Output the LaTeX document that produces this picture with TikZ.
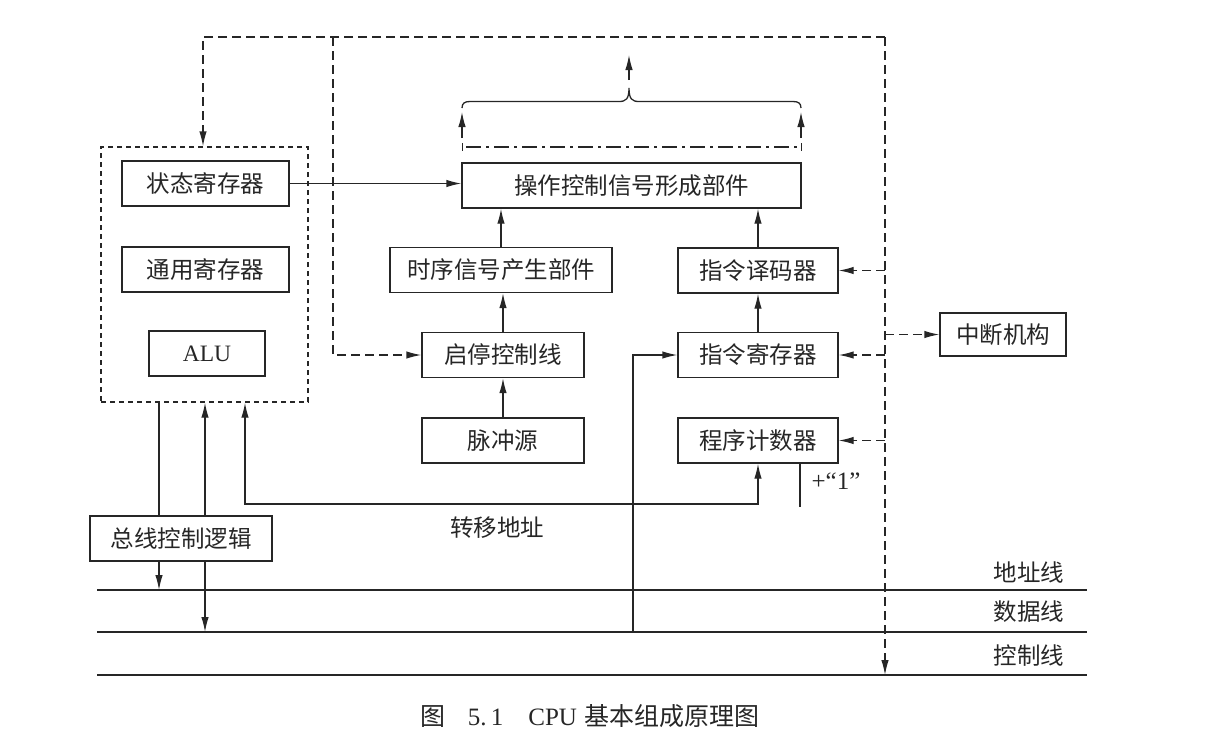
\documentclass[tikz,border=0pt]{standalone}
\usepackage{fontspec}
\setmainfont{Liberation Serif}
\newfontfamily\cjk{Noto Sans CJK SC}
\usetikzlibrary{arrows.meta}
\begin{document}
\begin{tikzpicture}[x=1pt,y=-1pt,
  line width=1.3pt, color=black!85,
  box/.style={draw, line width=1.3pt, minimum height=45pt, inner sep=0pt, font=\cjk\fontsize{23.5}{23.5}\selectfont},
  lbl/.style={inner sep=0pt, font=\cjk\fontsize{23.5}{23.5}\selectfont},
  arr/.style={-{Latex[length=15pt,width=7.5pt]}},
  arrb/.style={{Latex[length=15pt,width=7.5pt]}-{Latex[length=15pt,width=7.5pt]}},
  dsh/.style={dash pattern=on 9pt off 5pt},
  dbox/.style={draw, dash pattern=on 5pt off 4pt, inner sep=0pt}]
\useasboundingbox (0,0) rectangle (1208,748);

% register group
\node[dbox, minimum width=207pt, minimum height=255pt] (regs) at (204.5,274.5) {};
\node[box, minimum width=167pt] (status) at (205.5,183.5) {状态寄存器};
\node[box, minimum width=167pt] (gpr) at (205.5,269.5) {通用寄存器};
\node[box, minimum width=116pt, font=\fontsize{23.5}{23.5}\selectfont] (alu) at (207,353.5) {ALU};

% control part
\node[box, minimum width=339pt] (opc) at (631.5,185.5) {操作控制信号形成部件};
\node[box, minimum width=222pt] (timing) at (501,270) {时序信号产生部件};
\node[box, minimum width=162pt] (ss) at (503,355) {启停控制线};
\node[box, minimum width=162pt] (pulse) at (503,440.5) {脉冲源};
\node[box, minimum width=160pt] (dec) at (758,270.5) {指令译码器};
\node[box, minimum width=160pt] (ir) at (758,355) {指令寄存器};
\node[box, minimum width=160pt] (pc) at (758,440.5) {程序计数器};
\node[box, minimum width=126pt, minimum height=43pt] (int) at (1003,334.5) {中断机构};
\node[box, minimum width=182pt] (bcl) at (181,538.5) {总线控制逻辑};

% bus lines
\coordinate (aL) at (97,590); \coordinate (aR) at (1087,590);
\coordinate (dL) at (97,632); \coordinate (dR) at (1087,632);
\coordinate (cL) at (97,675); \coordinate (cR) at (1087,675);
\draw (aL) -- (aR);
\draw (dL) -- (dR);
\draw (cL) -- (cR);
\node[lbl] (la) at (1029,572) {地址线};
\node[lbl] (ld) at (1029,612) {数据线};
\node[lbl] (lc) at (1029,656) {控制线};

% solid connectors
\draw[arr] (status.east) -- (status.east -| opc.west);
\draw[arr] (timing.north) -- (timing.north |- opc.south);
\draw[arr] (dec.north) -- (dec.north |- opc.south);
\draw[arr] (ss.north) -- (ss.north |- timing.south);
\draw[arr] (pulse.north) -- (ss.south);
\draw[arr] (ir.north) -- (dec.south);

% output of opc
\coordinate (oL) at (462,138); \coordinate (oLt) at (462,112);
\coordinate (oR) at (801,138); \coordinate (oRt) at (801,112);
\draw[arr] (oL) -- (oLt);
\draw[arr] (oR) -- (oRt);
\draw[dash pattern=on 15pt off 5pt on 3pt off 5pt] (466,147) -- (801,147);
\draw[line width=1pt] (462,143) -- (462,151);
\draw[line width=1pt] (801,143) -- (801,151);
\draw (462,108) .. controls (462,103) and (465,101.5) .. (470,101.5) -- (619,101.5)
  .. controls (626,101.5) and (629,99) .. (629,88)
  .. controls (629,99) and (632,101.5) .. (639,101.5) -- (793,101.5)
  .. controls (798,101.5) and (801,103) .. (801,108);
\coordinate (bo) at (629,80); \coordinate (bot) at (629,55);
\draw[arr] (bo) -- (bot);

% dashed control paths
\coordinate (tl) at (203,37); \coordinate (tm) at (333,37); \coordinate (tr) at (885,37);
\draw[dsh,arr] (tr) -- (tl) -- (tl |- regs.north);
\draw[dsh,arr] (tm) |- (ss.west);
\draw[dsh,arr] (tr) -- (tr |- cR);
\draw[dsh,arr] (dec.east -| tr) -- (dec.east);
\draw[dsh,arr] (ir.east -| tr) -- (ir.east);
\draw[dsh,arr] (pc.east -| tr) -- (pc.east);
\draw[dsh,arr] (int.west -| tr) -- (int.west);

% PC +1
\coordinate (p1) at (800,507);
\draw (pc.south -| p1) -- (p1);
\node[inner sep=0pt, font=\fontsize{25}{25}\selectfont] (plus1) at (836,481) {+“1”};

% transfer address
\coordinate (jmp) at (245,504);
\draw[arrb] (pc.south) |- (jmp) -- (jmp |- regs.south);
\node[lbl] (jlab) at (497,528) {转移地址};

% IR input from data bus
\coordinate (irs) at (633,632);
\draw[arr] (irs) |- (ir.west);

% bus control logic links
\coordinate (xa) at (159,0); \coordinate (xb) at (205,0);
\draw (regs.south -| xa) -- (bcl.north -| xa);
\draw[arr] (bcl.south -| xa) -- (xa |- aL);
\draw[arr] (bcl.north -| xb) -- (regs.south -| xb);
\draw[arr] (bcl.south -| xb) -- (xb |- dL);

% caption
\node[inner sep=0pt, font=\fontsize{25}{25}\selectfont] (cap) at (590,716) {{\cjk 图}\hspace{0.9em}5.\,1\hspace{1em}CPU\hspace{0.3em}{\cjk 基本组成原理图}};
\end{tikzpicture}
\end{document}
